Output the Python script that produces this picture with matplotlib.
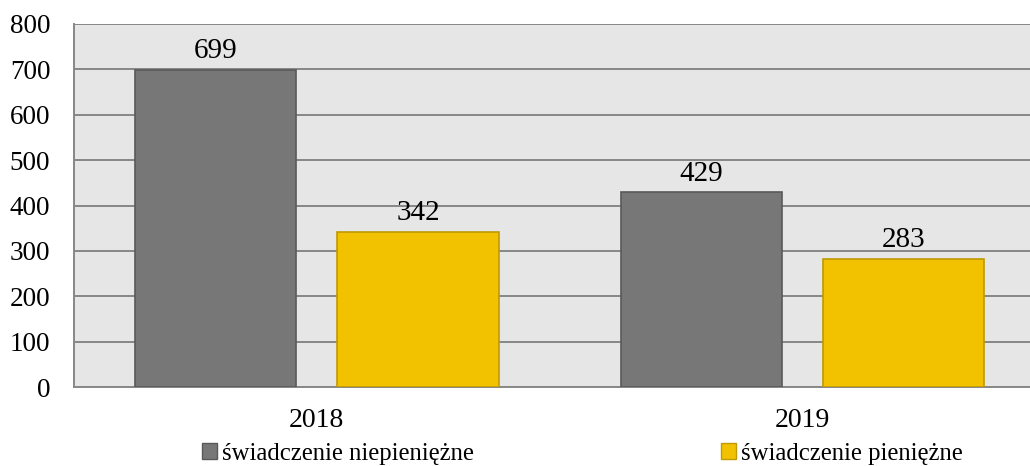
import matplotlib.pyplot as plt
import numpy as np
from matplotlib.patches import Patch

plt.rcParams["font.family"] = ["Liberation Serif", "DejaVu Serif"]

years = ["2018", "2019"]
series_names = ["świadczenie niepieniężne", "świadczenie pieniężne"]
non_cash = [699, 429]
cash = [342, 283]

colors = ["#777777", "#F2C200"]
edges = ["#595959", "#BF9A00"]

fig = plt.figure(figsize=(10.30, 4.66), dpi=100)
ax = fig.add_axes([0.0718, 0.1695, 0.9282, 0.779])
ax.set_facecolor("#E6E6E6")

x = np.arange(len(years))
width = 0.332
offset = 0.2085

for vals, dx, fc, ec in [(non_cash, -offset, colors[0], edges[0]),
                         (cash, offset, colors[1], edges[1])]:
    bars = ax.bar(x + dx, vals, width, color=fc, edgecolor=ec,
                  linewidth=1.2, zorder=3)
    for b, v in zip(bars, vals):
        ax.annotate(str(v), (b.get_x() + b.get_width() / 2, v),
                    xytext=(0, 4), textcoords="offset points",
                    ha="center", va="bottom", fontsize=21, zorder=4)

ax.set_ylim(0, 800)
ax.set_yticks(range(0, 801, 100))
ax.set_xlim(-0.5, 1.4686)
ax.set_xticks(x)
ax.set_xticklabels(years)
ax.yaxis.grid(True, color="#878787", linewidth=1.4, zorder=1)
ax.set_axisbelow(True)

ax.tick_params(axis="y", length=0, pad=17, labelsize=19.5)
ax.tick_params(axis="x", length=0, pad=15, labelsize=20)

for side in ["top", "right"]:
    ax.spines[side].set_visible(False)
for side in ["left", "bottom"]:
    ax.spines[side].set_color("#878787")
    ax.spines[side].set_linewidth(1.4)

handles = [Patch(facecolor=colors[i], edgecolor=edges[i], label=series_names[i])
           for i in range(2)]
fig.legend(handles=handles, loc="center", bbox_to_anchor=(0.5655, 0.026),
           ncol=2, frameon=False, fontsize=17.8, handlelength=0.6,
           handleheight=0.6, handletextpad=0.2, columnspacing=10.0)

fig.savefig("out.png", dpi=100)
